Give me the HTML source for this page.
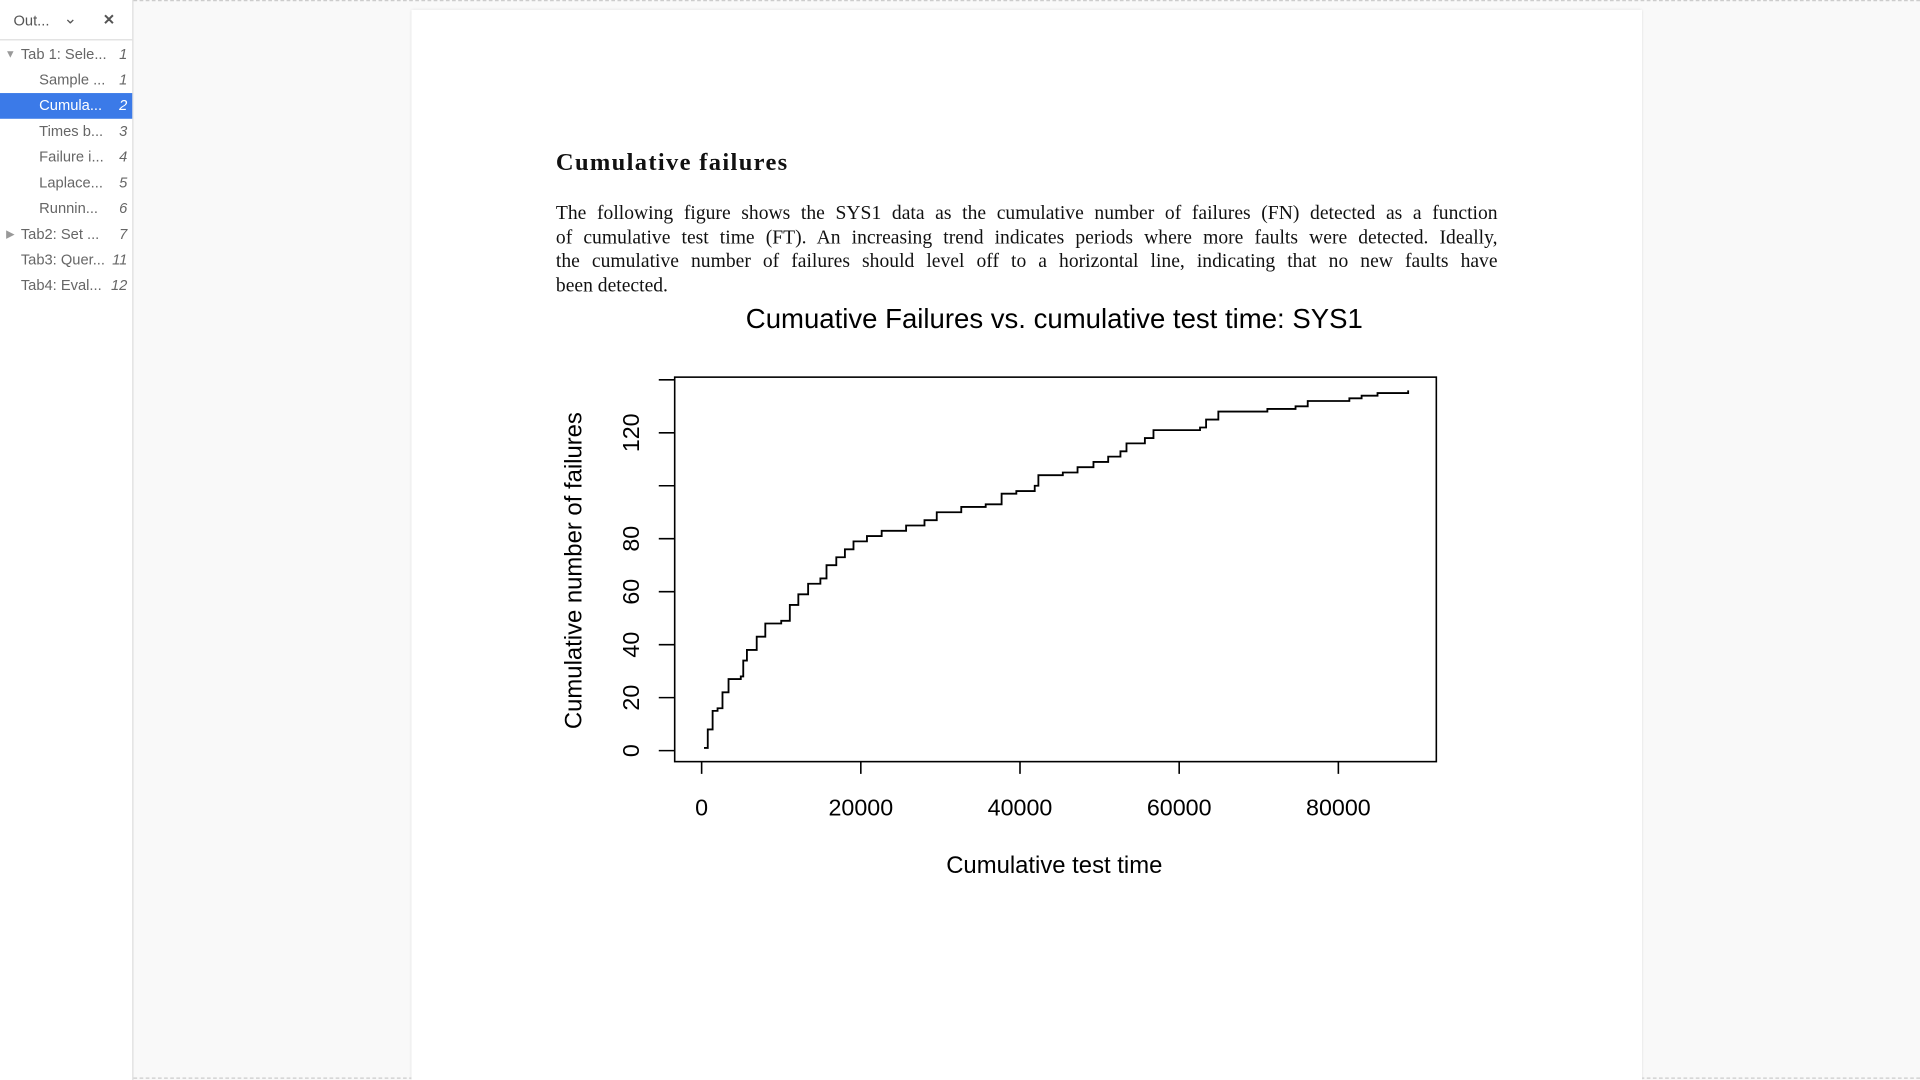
<!DOCTYPE html>
<html><head><meta charset="utf-8"><style>
html,body{margin:0;padding:0;overflow:hidden;width:1920px;height:1080px;background:#f9f9f9}
#root{position:absolute;left:0;top:0;width:1568px;height:882px;transform:scale(1.22449);transform-origin:0 0;font-family:"Liberation Sans",sans-serif;background:#f9f9f9}
#side{position:absolute;left:0;top:0;width:108px;height:882px;background:#fff;border-right:1px solid #ddd}
#side .hdr{height:32px;border-bottom:1px solid #ddd;font-size:12px;color:#555;position:relative}
.row{position:absolute;left:0;width:108px;height:21px;font-size:12px;color:#666;line-height:21px}
.row .t{position:absolute;left:32px}.row .n{position:absolute;right:4px;font-style:italic}
.row.sel{background:#3b7ae8;color:#fff}
#main-top{position:absolute;left:109px;top:0;right:0;border-top:1px dashed #ccc}
#main-bot{position:absolute;left:109px;top:880px;right:0;border-top:1px dashed #ccc}
#page{position:absolute;left:336px;top:8px;width:1005px;height:874px;background:#fff;box-shadow:0 0 2px #ccc}
h2{position:absolute;left:118px;top:114px;margin:0;font:bold 20px "Liberation Serif",serif;letter-spacing:1.1px;color:#111}
#para{position:absolute;left:118px;top:157px;width:769px;margin:0;font:16px/19.7px "Liberation Serif",serif;color:#111}
#para div{text-align:justify;text-align-last:justify;white-space:nowrap;word-spacing:-0.5px}
#para div.last{text-align-last:left;word-spacing:0}
svg{position:absolute;left:0;top:0}
</style></head><body>
<div id="root">
<div id="side">
 <div class="hdr">
  <span style="position:absolute;left:11px;top:10px">Out...</span>
  <span style="position:absolute;left:52px;top:7px;font-size:13px">&#8964;</span>
  <span style="position:absolute;left:84px;top:9px;font-weight:bold">✕</span>
 </div>
 <div class="row" style="top:34px"><span style="position:absolute;left:4px;font-size:9px;color:#999">▼</span><span class="t" style="left:17px">Tab 1: Sele...</span><span class="n">1</span></div>
 <div class="row" style="top:55px"><span class="t">Sample ...</span><span class="n">1</span></div>
 <div class="row sel" style="top:76px"><span class="t">Cumula...</span><span class="n">2</span></div>
 <div class="row" style="top:97px"><span class="t">Times b...</span><span class="n">3</span></div>
 <div class="row" style="top:118px"><span class="t">Failure i...</span><span class="n">4</span></div>
 <div class="row" style="top:139px"><span class="t">Laplace...</span><span class="n">5</span></div>
 <div class="row" style="top:160px"><span class="t">Runnin...</span><span class="n">6</span></div>
 <div class="row" style="top:181px"><span style="position:absolute;left:5px;font-size:9px;color:#999">▶</span><span class="t" style="left:17px">Tab2: Set ...</span><span class="n">7</span></div>
 <div class="row" style="top:202px"><span class="t" style="left:17px">Tab3: Quer...</span><span class="n">11</span></div>
 <div class="row" style="top:223px"><span class="t" style="left:17px">Tab4: Eval...</span><span class="n">12</span></div>
</div>
<div id="main-top"></div><div id="main-bot"></div>
<div id="page">
<h2>Cumulative failures</h2>
<div id="para">
<div>The following figure shows the SYS1 data as the cumulative number of failures (FN) detected as a function</div>
<div>of cumulative test time (FT). An increasing trend indicates periods where more faults were detected. Ideally,</div>
<div>the cumulative number of failures should level off to a horizontal line, indicating that no new faults have</div>
<div class="last">been detected.</div>
</div>
</div>
<svg id="chart" width="1568" height="882"></svg>
</div>
<script>
const times=[300,770,1380,2000,2620,3380,4920,5230,5690,6920,8000,10000,11080,12150,13380,14920,15690,16920,18000,19080,20770,22620,25690,28000,29540,32620,35690,37690,39540,41850,42310,45380,47230,49230,51080,52620,53380,55690,56770,62620,63380,64920,71080,74620,76150,81380,82920,84920,88770];
const counts=[1,8,15,16,22,27,28,34,38,43,48,49,55,59,63,65,70,73,76,79,81,83,85,87,90,92,93,97,98,100,104,105,107,109,111,113,116,118,121,122,125,128,129,130,132,133,134,135,136];
const xTicks=[0,20000,40000,60000,80000];
const yTicks=[0,20,40,60,80,100,120,140];
const yTickLabels=["0","20","40","60","80","","120",""];
const NS="http://www.w3.org/2000/svg";
const svg=document.getElementById('chart');
const X=v=>573+v*0.0065, Y=v=>613-v*2.163;
function mk(tag,a,parent){const e=document.createElementNS(NS,tag);for(const k in a)e.setAttribute(k,a[k]);(parent||svg).appendChild(e);return e;}
let t=mk('text',{x:861,y:268,'text-anchor':'middle','font-size':22.5,'font-family':'Liberation Sans, sans-serif'});t.textContent='Cumuative Failures vs. cumulative test time: SYS1';


let box=mk('rect',{x:551,y:308,width:622,height:314,fill:'none',stroke:'#000','stroke-width':1.3});


xTicks.forEach(v=>{mk('line',{x1:X(v),x2:X(v),y1:632,y2:622,stroke:'#000','stroke-width':1.3});
 const l=mk('text',{x:X(v),y:666,'text-anchor':'middle','font-size':19,'font-family':'Liberation Sans, sans-serif'});l.textContent=v;
 
 });
yTicks.forEach((v,i)=>{mk('line',{x1:538,x2:551,y1:Y(v),y2:Y(v),stroke:'#000','stroke-width':1.3});
 if(yTickLabels[i]){const l=mk('text',{x:0,y:0,transform:`translate(522,${Y(v)}) rotate(-90)`,'text-anchor':'middle','font-size':19,'font-family':'Liberation Sans, sans-serif'});l.textContent=yTickLabels[i];
 
 }});
let xt=mk('text',{x:861,y:713,'text-anchor':'middle','font-size':19.5,'font-family':'Liberation Sans, sans-serif'});xt.textContent='Cumulative test time';


let yt=mk('text',{x:0,y:0,transform:'translate(475,466) rotate(-90)','text-anchor':'middle','font-size':19.5,'font-family':'Liberation Sans, sans-serif'});yt.textContent='Cumulative number of failures';


let d=`M${X(times[0])},${Y(counts[0])}`;
for(let i=1;i<times.length;i++){d+=` H${X(times[i])} V${Y(counts[i])}`;}
let p=mk('path',{d:d,fill:'none',stroke:'#000','stroke-width':1.5});


</script>
</body></html>
